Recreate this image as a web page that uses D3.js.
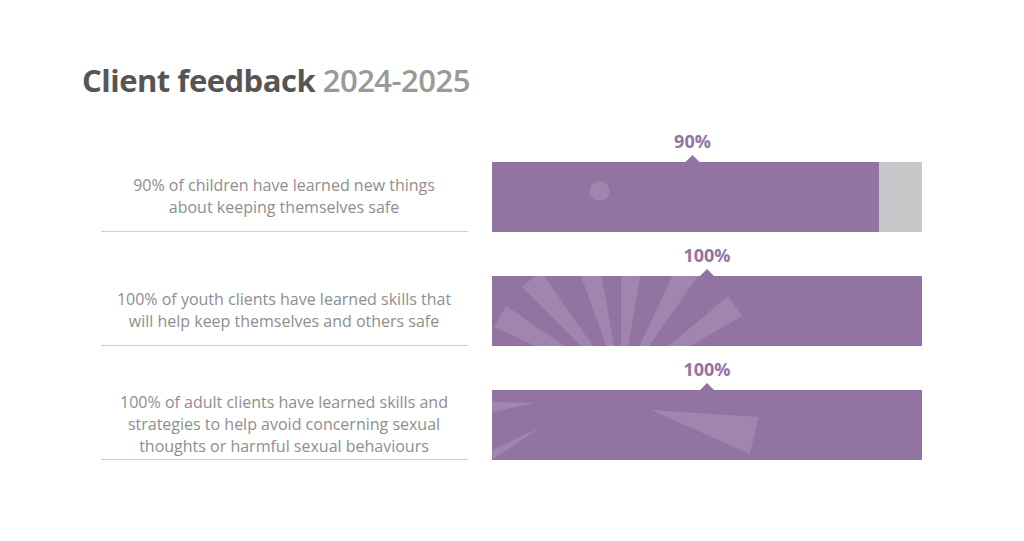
<!DOCTYPE html>
<html>
<head>
<meta charset="utf-8">
<script src="https://cdn.jsdelivr.net/npm/d3@7"></script>
<style>
body { margin: 0; background: #fff; }
svg { font-family: "Open Sans", "Noto Sans", sans-serif; }
</style>
</head>
<body>
<svg id="chart" width="1024" height="541"></svg>
<script>
const statements = [
    ["90% of children have learned new things", "about keeping themselves safe"],
    ["100% of youth clients have learned skills that", "will help keep themselves and others safe"],
    ["100% of adult clients have learned skills and", "strategies to help avoid concerning sexual", "thoughts or harmful sexual behaviours"]
];
const values = [90, 100, 100];
const valueLabels = ["90%", "100%", "100%"];

const svg = d3.select('#chart');
const purple = '#9274a3';

const title = svg.append('text')
    .attr('x', 82).attr('y', 92)
    .style('font-size', '31px')
    .style('letter-spacing', '-0.5px');
title.append('tspan').attr('fill', '#555').attr('font-weight', 700).text('Client feedback ');
title.append('tspan').attr('fill', '#999').attr('font-weight', 600).text('2024-2025');

const y = d3.scaleBand()
    .domain(d3.range(values.length))
    .range([148, 474])
    .paddingInner(0.5).paddingOuter(0.2);
const yrow = d3.scalePoint().domain(d3.range(values.length)).range([162, 390]);
const barH = 70;
const x = d3.scaleLinear().domain([0, 100]).range([492, 922]);

const defs = svg.append('defs');

values.forEach((v, i) => {
    const top = yrow(i);
    const g = svg.append('g');

    defs.append('clipPath').attr('id', 'clip' + i)
        .append('rect').attr('x', x(0)).attr('y', top)
        .attr('width', x(100) - x(0)).attr('height', barH);

    g.append('rect')
        .attr('x', x(0)).attr('y', top)
        .attr('width', x(100) - x(0)).attr('height', barH)
        .attr('fill', '#c8c8ca');
    g.append('rect')
        .attr('x', x(0)).attr('y', top)
        .attr('width', x(v) - x(0)).attr('height', barH)
        .attr('fill', purple);

    // faint decorative shapes
    const deco = g.append('g').attr('clip-path', `url(#clip${i})`)
        .attr('fill', '#fff').attr('opacity', 0.13);
    if (i === 0) {
        deco.append('circle').attr('cx', x(25)).attr('cy', top + 29).attr('r', 10);
    } else if (i === 1) {
        const cx = x(30), cy = top + 110;
        [-150, -130, -105, -85, -60, -35].forEach((a, k) => {
            const r = 140, w = 0.09;
            const a1 = (a - 5) * Math.PI / 180, a2 = (a + 5) * Math.PI / 180;
            deco.append('path').attr('d',
                `M${cx},${cy} L${cx + r * Math.cos(a1)},${cy + r * Math.sin(a1)} L${cx + r * Math.cos(a2)},${cy + r * Math.sin(a2)}Z`);
        });
    } else {
        deco.append('path').attr('d', `M${x(37)},${top + 20} L${x(62)},${top + 27} L${x(60)},${top + 64}Z`);
        deco.append('path').attr('d', `M${x(0)},${top + 12} L${x(10)},${top + 13} L${x(0)},${top + 22}Z`);
        deco.append('path').attr('d', `M${x(0)},${top + 60} L${x(11)},${top + 38} L${x(0)},${top + 70}Z`);
    }

    const cxLabel = (x(0) + x(v)) / 2 + (v < 100 ? 7 : 0);
    g.append('path')
        .attr('d', `M${cxLabel - 7},${top} L${cxLabel},${top - 7} L${cxLabel + 7},${top}Z`)
        .attr('fill', purple);
    g.append('text')
        .attr('x', cxLabel).attr('y', top - 14)
        .attr('text-anchor', 'middle')
        .attr('fill', purple).attr('font-weight', 700)
        .style('font-size', '18px')
        .text(valueLabels[i]);

    const lines = statements[i];
    const midY = top + 35;
    const t = g.append('text')
        .attr('text-anchor', 'middle')
        .attr('fill', '#8e8e8e')
        .style('font-size', '16px');
    lines.forEach((l, k) => {
        t.append('tspan')
            .attr('x', 284)
            .attr('y', midY + (k - (lines.length - 1) / 2) * 22 + 5)
            .text(l);
    });

    g.append('line')
        .attr('x1', 101).attr('x2', 468)
        .attr('y1', top + barH - 0.5).attr('y2', top + barH - 0.5)
        .attr('stroke', '#cfcfcf').attr('stroke-width', 1.2);
});
</script>
</body>
</html>
